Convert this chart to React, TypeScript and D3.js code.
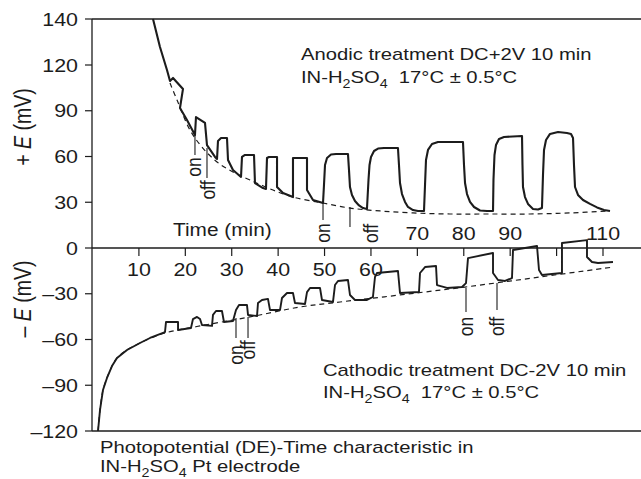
import React from "react";
import * as d3 from "d3";

// ---- data (time in min, potential in mV) ----
const xTicks = [10, 20, 30, 40, 50, 60, 70, 80, 90, 100, 110];
const xLabelsBelow = [10, 20, 30, 40, 50, 60];
const xLabelsAbove = [70, 80, 90, 110];
const yTicks = [140, 120, 90, 60, 30, 0, -30, -60, -90, -120];

const anodicSolid: [number, number][] = [
  [13.04, 140], [14.54, 127.8], [16.05, 116.7], [16.7, 109.5],
  [17.35, 111.5], [19.5, 104.3], [18.85, 91.8], [20.36, 83.9], [22.08, 74.1],
  [22.3, 85.9], [24.24, 82.0], [24.67, 67.5], [26.4, 59.7], [26.83, 58.4],
  [27.04, 70.2], [27.69, 72.1], [28.98, 72.1], [29.2, 57.7], [30.27, 51.1], [32.0, 46.6],
  [32.21, 59.7], [32.86, 61.0], [34.8, 61.0], [35.01, 42.6], [36.74, 39.3], [37.38, 38.7],
  [37.6, 59.0], [38.03, 59.7], [39.76, 59.7], [39.76, 40.0], [41.05, 36.1], [43.2, 33.4],
  [43.2, 59.0], [46.22, 59.0], [46.22, 38.0], [47.51, 31.5], [49.67, 29.5],
  [49.88, 41.3], [50.1, 54.4], [50.53, 59.0], [51.39, 61.3], [52.47, 61.6], [55.05, 61.6],
  [55.27, 51.1], [55.48, 40.0], [55.91, 34.8], [56.56, 30.8], [57.43, 27.9], [58.29, 26.2], [59.14, 25.6],
  [59.47, 44.6], [59.69, 54.4], [60.01, 59.7], [60.66, 63.6], [61.52, 65.2], [62.81, 65.6], [65.82, 65.6],
  [66.04, 54.4], [66.26, 42.6], [66.69, 35.4], [67.34, 30.2], [67.98, 26.9], [69.06, 24.9], [70.14, 24.3], [71.43, 24.3],
  [71.65, 41.3], [71.86, 57.7], [72.29, 64.3], [73.15, 68.2], [74.44, 69.5], [79.83, 69.5],
  [80.05, 54.4], [80.27, 42.6], [80.7, 35.4], [81.34, 30.2], [82.21, 26.9], [83.5, 24.6], [85.01, 24.3], [86.3, 24.3],
  [86.4, 44.6], [86.62, 61.0], [86.94, 67.5], [87.59, 71.5], [88.67, 72.8], [92.55, 73.4],
  [92.65, 54.4], [92.76, 40.0], [93.19, 33.4], [93.84, 28.9], [94.92, 25.6], [96.0, 25.2], [96.85, 26.2],
  [97.07, 47.9], [97.29, 64.3], [97.72, 70.8], [98.58, 74.8], [100.31, 76.1], [102.24, 75.4], [103.11, 74.8], [103.54, 72.1],
  [103.75, 54.4], [103.97, 40.0], [104.61, 34.8], [105.69, 31.5], [107.2, 28.9], [108.71, 26.6], [110.22, 24.9], [111.51, 24.3],
];

const anodicBase: [number, number][] = [
  [16.7, 108.2], [18.21, 97.0], [21.0, 77.4], [23.59, 66.2], [26.83, 56.4], [30.27, 49.8],
  [33.94, 44.6], [38.89, 38.0], [43.2, 33.4], [49.67, 29.5], [55.48, 26.2], [61.95, 24.3],
  [69.06, 23.0], [77.03, 22.3], [85.0, 22.3], [94.27, 22.3], [102.9, 23.0], [111.5, 24.3],
];

const cathodicSolid: [number, number][] = [
  [1.19, -120], [1.62, -106.2], [2.26, -93.1], [3.12, -85.2], [4.2, -77.4], [5.28, -72.1],
  [7.43, -66.9], [10.23, -62.3], [12.39, -59.0], [15.62, -55.1],
  [15.84, -48.5], [18.43, -48.5], [18.43, -53.8], [21.22, -52.5],
  [21.65, -46.6], [22.52, -45.2], [23.17, -46.6], [23.59, -50.5], [25.75, -51.1],
  [25.96, -43.9], [26.61, -41.3], [27.9, -41.3], [28.33, -48.5], [30.27, -47.9],
  [30.92, -40.7], [31.57, -37.4], [33.29, -37.4], [33.51, -43.9], [35.45, -44.6],
  [35.66, -36.1], [36.52, -34.1], [37.81, -33.4], [38.25, -40.7], [40.4, -40.7],
  [40.83, -32.8], [41.91, -29.5], [43.2, -29.5], [43.63, -36.1], [45.79, -36.7],
  [46.22, -28.9], [46.87, -26.2], [49.02, -26.2], [49.45, -34.1], [51.82, -35.4],
  [52.25, -24.3], [52.9, -21.6], [55.05, -21.0], [55.48, -30.8], [56.56, -34.1], [59.14, -34.1], [60.43, -32.1],
  [60.87, -19.0], [61.3, -16.4], [65.82, -15.1], [66.26, -29.5], [70.35, -28.9],
  [70.57, -16.4], [71.65, -12.5], [74.02, -11.8], [74.23, -24.3], [76.39, -26.2], [79.62, -25.6], [80.48, -23.0],
  [80.91, -6.6], [86.3, -3.3], [86.3, -16.4], [87.38, -21.0], [88.89, -21.6], [90.39, -19.7],
  [90.61, -1.3], [95.78, 1.3], [96.21, -14.4], [96.85, -17.7], [101.16, -16.4],
  [101.16, 3.3], [106.55, 5.2], [106.55, -5.9], [107.63, -9.2], [108.92, -9.8], [112.15, -9.2],
];

const cathodicBase: [number, number][] = [
  [1.19, -120], [1.62, -106.2], [2.26, -93.1], [3.12, -85.2], [4.2, -77.4], [5.28, -72.1],
  [7.43, -66.9], [10.23, -62.3], [12.39, -59.3], [15.62, -55.7], [23.17, -51.1],
  [33.94, -45.2], [44.71, -38.7], [53.33, -35.4], [66.26, -30.8], [80.27, -25.6],
  [96.43, -19.0], [112.2, -12.5],
];

// on/off markers: time, E top, E bottom, label, label time, label E
const markers: { t: number; e1: number; e2: number; label: string; lt: number; le: number }[] = [
  { t: 22.08, e1: 74.1, e2: 61.0, label: "on", lt: 21.9, le: 53.1 },
  { t: 24.67, e1: 65.6, e2: 45.9, label: "off", lt: 24.9, le: 38.0 },
  { t: 49.67, e1: 29.5, e2: 18.4, label: "on", lt: 49.67, le: 9.8 },
  { t: 55.48, e1: 26.9, e2: 13.8, label: "off", lt: 59.99, le: 9.5 },
  { t: 30.92, e1: -45.9, e2: -59.0, label: "on", lt: 30.92, le: -70.2 },
  { t: 33.51, e1: -45.2, e2: -59.0, label: "off", lt: 33.51, le: -66.9 },
  { t: 80.48, e1: -26.2, e2: -42.0, label: "on", lt: 80.48, le: -51.5 },
  { t: 87.16, e1: -23.0, e2: -40.7, label: "off", lt: 87.16, le: -51.5 },
];

const fmtY = (v: number) => (v < 0 ? "\u2013" + Math.abs(v) : String(v));

// ---- layout ----
const W = 641;
const H = 479;
const xs = d3.scaleLinear().domain([0, 110]).range([92.5, 603]);
const ys = d3.scaleLinear().domain([-120, 120, 140]).range([431, 65, 19]);
const LEFT = 92;
const RIGHT = 641;
const SX = 1.19;
const INK = "#1c1c1c";
const FONT = "'Liberation Sans', Arial, Helvetica, sans-serif";

function T(props: {
  x: number;
  y: number;
  size?: number;
  anchor?: string;
  rot?: boolean;
  central?: boolean;
  children: React.ReactNode;
}) {
  const { x, y, size = 17, anchor = "start", rot = false, central = false, children } = props;
  return (
    <text
      transform={`translate(${x},${y}) scale(${SX},1)${rot ? " rotate(-90)" : ""}`}
      fontSize={size}
      textAnchor={anchor}
      dominantBaseline={central ? "central" : undefined}
      fill={INK}
      fontFamily={FONT}
    >
      {children}
    </text>
  );
}

const Sub = ({ c }: { c: string }) => (
  <tspan dy={5} fontSize={12}>
    {c}
  </tspan>
);

export default function App() {
  const straight = d3
    .line<[number, number]>()
    .x((d) => xs(d[0]))
    .y((d) => ys(d[1]));
  const smooth = d3
    .line<[number, number]>()
    .x((d) => xs(d[0]))
    .y((d) => ys(d[1]))
    .curve(d3.curveCatmullRom.alpha(0.5));

  const y0 = ys(0);
  const yTop = ys(140);
  const yBot = ys(-120);

  return (
    <svg width={W} height={H} style={{ position: "absolute", left: 0, top: 0, background: "#fff" }}>
      <rect x={0} y={0} width={W} height={H} fill="#fff" />
      {/* frame lines */}
      <line x1={LEFT} x2={RIGHT} y1={yTop} y2={yTop} stroke={INK} strokeWidth={1.3} />
      <line x1={LEFT} x2={RIGHT} y1={y0} y2={y0} stroke={INK} strokeWidth={1.3} />
      <line x1={LEFT} x2={RIGHT} y1={yBot} y2={yBot} stroke={INK} strokeWidth={1.3} />
      <line x1={LEFT} x2={LEFT} y1={yTop} y2={yBot} stroke={INK} strokeWidth={1.3} />

      {/* y ticks */}
      {yTicks.map((v) => (
        <g key={"yt" + v}>
          <line x1={LEFT - 7} x2={LEFT} y1={ys(v)} y2={ys(v)} stroke={INK} strokeWidth={1.2} />
          <T x={78} y={ys(v) + 6.5} size={18} anchor="end">
            {fmtY(v)}
          </T>
        </g>
      ))}

      {/* x ticks */}
      {xTicks.map((v) => (
        <line key={"xt" + v} x1={xs(v)} x2={xs(v)} y1={y0} y2={y0 + 8} stroke={INK} strokeWidth={1.2} />
      ))}
      {xLabelsBelow.map((v) => (
        <T key={"xb" + v} x={xs(v)} y={y0 + 28} size={18} anchor="middle">
          {v}
        </T>
      ))}
      {xLabelsAbove.map((v) => (
        <T key={"xa" + v} x={xs(v)} y={y0 - 8} size={18} anchor="middle">
          {v}
        </T>
      ))}
      <T x={173} y={y0 - 12} size={17.5}>
        Time (min)
      </T>

      {/* axis titles */}
      <T x={31} y={127} size={19.5} anchor="middle" rot>
        {"+ "}
        <tspan fontStyle="italic">E</tspan>
        {" (mV)"}
      </T>
      <T x={31} y={299} size={19.5} anchor="middle" rot>
        {"\u2013 "}
        <tspan fontStyle="italic">E</tspan>
        {" (mV)"}
      </T>

      {/* baselines (dashed) */}
      <path d={smooth(anodicBase) || ""} fill="none" stroke={INK} strokeWidth={1.2} strokeDasharray="5,4" />
      <path d={smooth(cathodicBase) || ""} fill="none" stroke={INK} strokeWidth={1.2} strokeDasharray="5,4" />

      {/* curves */}
      <path d={straight(anodicSolid) || ""} fill="none" stroke={INK} strokeWidth={2.1} strokeLinejoin="round" />
      <path d={straight(cathodicSolid) || ""} fill="none" stroke={INK} strokeWidth={1.9} strokeLinejoin="round" />

      {/* on / off markers */}
      {markers.map((m, i) => (
        <g key={"m" + i}>
          <line x1={xs(m.t)} x2={xs(m.t)} y1={ys(m.e1)} y2={ys(m.e2)} stroke={INK} strokeWidth={1.1} />
          <T x={xs(m.lt)} y={ys(m.le)} size={17.5} anchor="middle" rot central>
            {m.label}
          </T>
        </g>
      ))}

      {/* annotations */}
      <T x={301} y={60} size={17}>
        Anodic treatment DC+2V 10 min
      </T>
      <T x={301} y={83} size={17}>
        IN-H<Sub c="2" />
        <tspan dy={-5}>SO</tspan>
        <Sub c="4" />
        <tspan dy={-5}>{"\u00a0 17°C ± 0.5°C"}</tspan>
      </T>
      <T x={323} y={376} size={17}>
        Cathodic treatment DC-2V 10 min
      </T>
      <T x={323} y={398} size={17}>
        IN-H<Sub c="2" />
        <tspan dy={-5}>SO</tspan>
        <Sub c="4" />
        <tspan dy={-5}>{"\u00a0 17°C ± 0.5°C"}</tspan>
      </T>
      <T x={100} y={453} size={17}>
        Photopotential (DE)-Time characteristic in
      </T>
      <T x={100} y={472} size={17}>
        IN-H<Sub c="2" />
        <tspan dy={-5}>SO</tspan>
        <Sub c="4" />
        <tspan dy={-5}> Pt electrode</tspan>
      </T>
    </svg>
  );
}
